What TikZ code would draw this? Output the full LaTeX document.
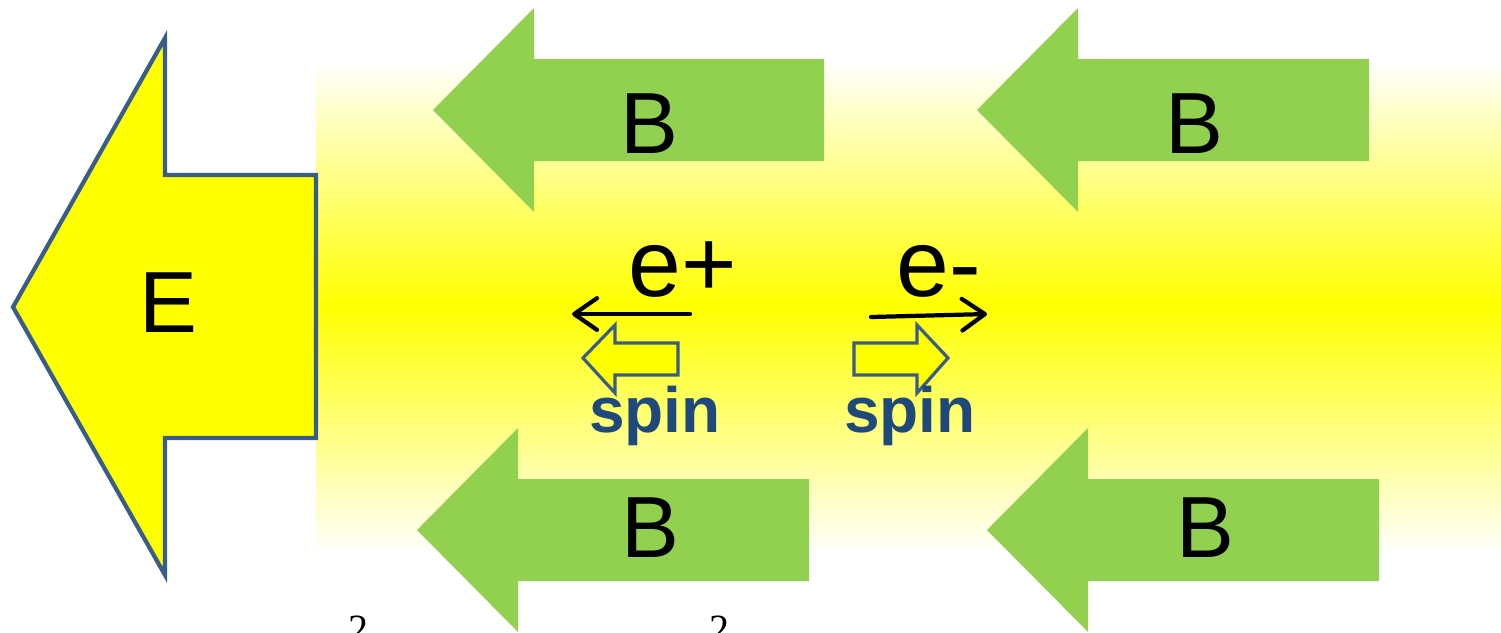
\documentclass[tikz,border=0pt]{standalone}
\usepackage{fontspec}
\setmainfont{Liberation Sans}
\newfontfamily\timesfont{Liberation Serif}
\usetikzlibrary{arrows.meta}
\definecolor{Bcol}{RGB}{146,208,80}
\definecolor{Eedge}{RGB}{56,93,138}
\definecolor{Spincol}{RGB}{31,73,125}
\definecolor{Ycol}{RGB}{255,255,0}
\definecolor{Wcol}{RGB}{255,255,255}
\def\hd{101}
\def\hw{102}

\begin{document}
\begin{tikzpicture}[x=0.01cm, y=-0.01cm,
  letter/.style={inner sep=0, anchor=base, font=\fontsize{24.7}{30}\selectfont},
  charge/.style={inner sep=0, anchor=base, font=\fontsize{27}{32}\selectfont},
  spinlbl/.style={inner sep=0, anchor=base, text=Spincol, font=\bfseries\fontsize{18.2}{22}\selectfont},
  sqr/.style={inner sep=0, anchor=base, font=\timesfont\fontsize{11.4}{13}\selectfont},
  move/.style={line width=1.2pt, line cap=round, -{Straight Barb[length=6.5pt, width=9pt, round]}},
  spinarrow/.style={line width=0.9pt, draw=Eedge, fill=Ycol, line join=miter}]
  \useasboundingbox (0,0) rectangle (1501,632);

  % yellow band
  \shade[top color=Wcol, middle color=Ycol!30!Wcol, bottom color=Ycol] (316,60) rectangle (1501,305);
  \shade[top color=Ycol, middle color=Ycol!30!Wcol, bottom color=Wcol] (316,305) rectangle (1501,555);

  % B arrows
  \foreach \tx/\ty/\rx in {433/110/824, 977/110/1369, 417/530/809, 987/530/1379}
    \fill[Bcol] (\tx,\ty) -- (\tx+\hd,\ty-\hw) -- (\tx+\hd,\ty-51) -- (\rx,\ty-51)
      -- (\rx,\ty+51) -- (\tx+\hd,\ty+51) -- (\tx+\hd,\ty+\hw) -- cycle;
  \node[letter] (b1) at (649,153) {B};
  \node[letter] (b2) at (1194,153) {B};
  \node[letter] (b3) at (650,557) {B};
  \node[letter] (b4) at (1205,557) {B};

  % E arrow
  \filldraw[line width=1.2pt, draw=Eedge, fill=Ycol]
    (13,307) -- (165,38) -- (165,175) -- (316,175) -- (316,438) -- (165,438) -- (165,575) -- cycle;
  \node[letter] (e) at (168,332) {E};

  % particles
  \node[charge] (pos) at (683,296) {e+};
  \node[charge] (neg) at (939,296) {e-};
  \coordinate (pos0) at (690,314);
  \coordinate (pos1) at (572,314);
  \coordinate (neg0) at (871,317);
  \coordinate (neg1) at (987,314);
  \draw[move] (pos0) -- (pos1);
  \draw[move] (neg0) -- (neg1);

  % spins
  \filldraw[spinarrow] (583,358) -- (615,325) -- (615,343) -- (678,343) -- (678,375) -- (615,375) -- (615,393) -- cycle;
  \filldraw[spinarrow] (948,358) -- (917,325) -- (917,343) -- (854,343) -- (854,375) -- (917,375) -- (917,393) -- cycle;
  \node[spinlbl] (spin1) at (655,432) {spin};
  \node[spinlbl] (spin2) at (910,432) {spin};

  % cut-off squares below
  \node[sqr] (sq1) at (359,642) {2};
  \node[sqr] (sq2) at (720,642) {2};
\end{tikzpicture}
\end{document}
